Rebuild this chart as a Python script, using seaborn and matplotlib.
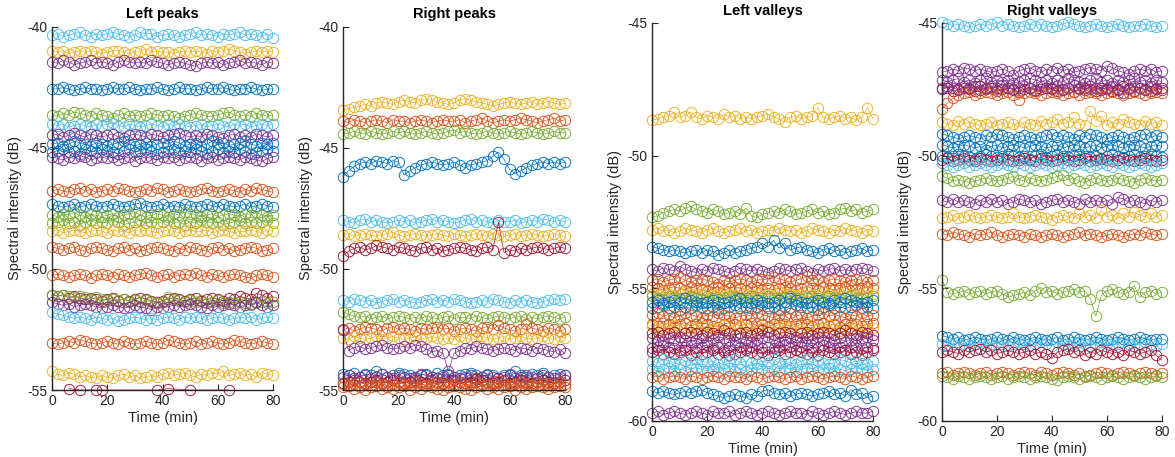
import numpy as np
import pandas as pd
import matplotlib
matplotlib.use("Agg")
import matplotlib.pyplot as plt
import seaborn as sns

# ---------------- data ----------------
TIME_START, TIME_END = 0, 80          # minutes
DEV_UNIT_DB = 0.06                    # deviations below are in units of 0.06 dB

MATLAB = {"blue": "#0072BD", "orange": "#D95319", "yellow": "#EDB120",
          "purple": "#7E2F8E", "green": "#77AC30", "cyan": "#4DBEEE",
          "darkred": "#A2142F"}

titles = ["Left peaks", "Right peaks", "Left valleys", "Right valleys"]
y_ticks_peaks = [-55, -50, -45, -40]
y_ticks_valleys = [-60, -55, -50, -45]
x_ticks = [0, 20, 40, 60, 80]

# ---- Left peaks ----
lp_levels = [-40.35, -41.05, -41.45, -42.57, -43.70, -44.02, -44.55, -44.85,
             -45.12, -45.38, -46.78, -47.45, -47.78, -48.05, -48.45, -49.15,
             -50.27, -51.25, -51.30, -51.50, -51.98, -53.05, -54.40, -55.00]
lp_colors = ["cyan", "yellow", "purple", "blue", "green", "cyan", "purple", "blue",
             "blue", "purple", "orange", "blue", "green", "green", "yellow", "orange",
             "orange", "darkred", "green", "purple", "cyan", "orange", "yellow", "darkred"]
N = None
lp_devs = [
    [0,1,-1,0,1,2,0,-1,1,0,1,2,1,0,-1,0,2,1,1,-1,0,1,0,-1,0,1,2,0,1,0,-1,1,0,1,2,0,1,0,-1,1,-2],
    [1,0,1,-1,0,1,0,1,0,-1,0,1,1,0,-1,0,1,2,0,1,0,0,-1,0,1,0,1,0,-1,1,0,1,2,1,0,-1,0,1,0,1,0],
    [0,-1,1,0,-2,-1,0,1,-1,0,-1,-2,0,1,0,-1,0,-1,1,0,-1,-2,-1,0,-1,-2,-3,-1,0,-1,0,-2,-1,0,1,-1,0,-1,-2,0,-1],
    [0,0,1,0,-1,0,1,0,0,-1,0,1,0,0,1,0,-1,0,0,1,0,-1,0,1,0,0,-1,0,1,0,0,1,0,-1,0,0,1,0,-1,0,0],
    [1,0,2,1,3,2,1,0,2,1,0,-1,1,2,0,1,0,1,2,1,0,1,0,-1,0,1,2,1,0,0,1,2,3,1,0,1,0,2,1,0,1],
    [0,-1,0,-2,-1,0,-1,-2,0,-1,0,1,-1,-2,0,-1,-2,-1,0,-1,-2,0,-1,0,-1,-2,-1,0,-2,-1,0,-1,-2,0,-1,0,-2,-1,0,-1,0],
    [1,2,0,1,3,1,0,2,1,0,1,2,0,-1,1,2,1,0,2,1,0,1,2,3,1,0,1,0,2,1,0,-1,1,2,0,1,0,2,1,0,1],
    [0,1,-1,0,2,1,0,-1,1,0,-1,0,1,2,0,-1,0,1,-1,0,1,0,2,1,-1,0,1,-1,0,2,0,1,-1,0,1,2,0,-1,1,0,1],
    [-1,0,1,-1,0,-2,1,0,-1,1,0,-1,-2,0,1,-1,0,1,0,-2,-1,0,1,-1,0,-1,1,0,-2,0,1,-1,0,-1,1,0,-2,-1,0,1,0],
    [0,-1,-2,0,-1,1,0,-2,-1,0,-1,0,-2,-1,0,-3,-1,0,-1,-2,0,-1,0,-2,-1,0,-1,-3,-1,0,-2,-1,0,-1,-2,0,-1,-2,-3,-1,0],
    [0,1,0,-1,1,2,0,1,-1,0,1,0,2,1,0,-1,0,1,0,2,1,-1,0,1,0,-1,0,1,2,0,-1,0,1,0,-1,1,0,2,1,0,-1],
    [2,1,0,1,2,0,1,2,1,0,1,2,1,0,1,2,3,1,0,1,2,0,1,0,2,1,0,1,2,1,0,2,1,0,1,2,0,1,2,1,0],
    [0,-1,1,0,2,0,-1,1,0,-1,0,1,-1,0,1,2,0,-1,0,1,0,-1,1,0,2,1,0,-1,0,1,-1,0,1,0,-1,1,0,2,0,-1,0],
    [-1,0,1,-1,0,-2,0,1,-1,0,-1,1,0,-2,-1,0,1,-1,0,-1,0,1,-1,0,-2,0,-1,1,0,-1,0,-2,-1,0,1,-1,0,-1,0,1,-1],
    [0,1,-1,0,1,0,-1,0,1,0,-1,1,0,0,-1,1,0,1,0,-1,0,1,0,-1,0,1,0,0,1,-1,0,1,0,-1,0,0,1,0,-1,1,0],
    [1,0,-1,0,1,-1,-2,0,1,0,-1,-2,0,1,-1,0,-2,-1,0,1,0,-1,-2,0,-1,1,0,-1,-2,0,1,-1,0,-2,-1,0,1,0,-2,-1,0],
    [0,1,0,-1,0,1,0,-2,0,1,0,-1,1,0,-1,0,1,2,0,-1,0,1,-1,0,1,0,2,0,-1,1,0,-1,0,1,0,-1,-2,0,1,0,-1],
    [3,2,3,1,2,1,0,1,0,-1,0,1,-1,0,-1,0,1,0,-1,-2,-1,0,1,0,-1,0,1,-1,0,1,0,-1,1,0,2,1,0,4,3,1,2],
    [4,3,4,3,2,3,2,1,2,1,0,1,0,1,-1,0,-1,0,-1,-2,-1,2,1,0,-1,0,-1,0,-2,-1,0,-2,-1,-2,-1,-2,-3,-2,-1,-2,-1],
    [2,1,0,1,-1,0,1,0,-1,-2,-1,0,-1,-2,-1,0,-1,-2,-3,-1,-2,-1,0,-1,0,1,0,-1,-2,0,-1,0,1,0,-1,0,1,2,0,-1,0],
    [3,2,1,0,-1,0,-1,-2,0,-1,-2,-1,-3,-2,-1,0,-1,-2,-1,-2,-1,0,-1,-2,0,-1,0,-1,-2,-1,0,-1,-2,-1,0,-1,0,-2,-1,0,-1],
    [0,-1,0,1,0,2,1,0,-1,0,1,0,-1,1,0,-1,0,1,0,-1,0,2,1,0,-1,0,1,-1,0,1,0,-1,0,2,1,0,-1,0,1,0,-1],
    [3,1,0,2,1,-1,0,-1,-2,0,-1,-2,0,1,-1,0,-2,-1,0,-1,1,2,0,1,2,0,-1,1,0,2,1,3,0,1,2,0,1,-1,2,1,0],
    [N,N,N,1,N,0,N,N,0,0,N,N,N,N,N,N,N,N,N,0,N,1,N,N,N,0,N,N,N,N,N,N,0,N,N,N,N,N,N,N,N],
]

# ---- Right peaks ----
rp_levels = [-43.15, -43.90, -44.38, -45.65, -48.05, -48.60, -49.15, -51.35,
             -52.00, -52.50, -52.85, -53.25, -54.40, -54.45, -54.65, -54.75, -54.88]
rp_colors = ["yellow", "orange", "green", "blue", "cyan", "yellow", "darkred", "cyan",
             "green", "orange", "yellow", "purple", "blue", "purple", "darkred", "orange", "orange"]
rp_devs = [
    [-5,-4,-3,-2,-1,-2,0,1,0,-1,1,2,1,0,2,3,2,1,0,-1,0,2,3,2,1,0,-1,-2,-1,0,1,0,-1,0,1,-1,0,1,0,-1,0],
    [0,-1,1,0,-1,0,1,0,-1,1,0,0,-1,0,1,0,-1,0,1,0,0,1,-1,0,1,2,0,-1,0,1,0,1,2,1,0,-1,0,1,2,0,1],
    [-1,0,1,0,-1,1,0,-1,0,1,0,1,0,-1,0,1,0,-1,0,1,2,0,1,0,-1,0,1,0,-1,0,1,0,-1,0,1,0,-1,0,1,0,0],
    [-9,-5,-2,0,1,0,2,1,0,2,1,-8,-5,-3,-1,0,1,0,-1,0,1,-1,-3,-1,0,1,2,5,8,3,-4,-7,-5,-3,-1,0,1,0,1,0,1],
    [1,0,-1,1,2,0,1,0,-1,0,1,0,1,-1,0,1,2,0,1,0,-1,0,1,2,0,1,0,-1,1,0,0,1,-1,0,1,0,2,1,0,1,0],
    [0,1,-1,0,1,0,-1,0,1,2,0,-1,0,1,0,-1,0,1,0,-1,1,0,-1,0,1,0,-1,1,0,-1,0,1,-1,0,1,0,-1,0,1,0,-1],
    [-5,-2,0,1,-1,0,2,1,0,-1,1,0,-1,-2,0,1,-1,0,-2,-1,0,1,0,-1,-2,0,1,-1,18,-3,-1,-2,0,-1,0,1,0,-1,0,1,0],
    [1,0,2,1,0,1,-1,0,1,2,0,1,0,-1,0,1,2,0,1,0,2,1,0,-1,0,1,0,2,1,0,-1,1,0,1,0,-1,0,1,2,1,2],
    [4,2,1,0,1,-1,0,1,-1,0,1,0,-1,0,-1,1,0,-1,0,1,-1,0,0,-1,1,0,-1,0,1,0,-1,0,1,-1,0,-1,0,1,0,-1,0],
    [0,1,-1,0,2,1,0,-1,1,2,0,1,0,-1,1,0,1,2,0,1,-1,0,1,0,-1,1,2,0,3,1,0,-1,0,4,1,0,-1,1,0,-1,0],
    [0,-1,1,0,-1,0,1,-1,0,1,0,-1,0,1,-1,0,1,0,-1,0,-1,1,0,-1,0,1,0,-1,0,1,-1,0,1,0,-1,0,1,0,-1,1,0],
    [12,-2,0,1,-1,0,1,2,0,-1,0,1,0,2,1,-1,-3,-2,-4,-16,-4,-2,0,-1,1,0,-1,-2,-1,0,-1,-2,0,-1,-2,0,-1,-2,-3,-1,-4],
    [1,0,2,-1,1,0,3,1,-1,0,2,1,0,-2,1,0,-1,2,0,1,-1,0,1,2,0,-1,1,0,-2,0,1,3,0,-1,1,0,2,-1,0,1,0],
    [0,1,-1,0,1,-1,0,2,0,-1,1,0,-1,0,1,2,0,-1,0,1,0,-1,0,1,-1,0,1,0,-1,0,1,-1,0,1,0,-1,1,0,-1,0,1],
    [-1,0,1,0,-1,0,1,-1,0,1,0,-1,0,1,0,-1,1,0,-1,0,1,0,-1,0,2,1,0,-1,0,1,-1,0,1,0,-1,0,1,0,-1,0,1],
    [0,-1,0,1,0,-1,1,0,-1,0,1,0,-1,1,0,-1,0,1,0,-1,0,1,-1,0,1,0,-1,0,2,0,-1,0,1,0,-1,1,0,-1,0,1,0],
    [0,1,-1,0,-2,0,1,-1,0,-1,0,1,-2,0,-1,1,0,-1,-2,0,1,0,-1,-2,0,1,-1,0,-1,0,1,-2,0,-1,0,1,0,-1,0,1,0],
]

# ---- Left valleys ----
lv_levels = [-48.55, -52.15, -52.85, -53.55, -54.35, -54.70, -55.00, -55.20,
             -55.35, -55.50, -55.70, -56.05, -56.35, -56.55, -56.70, -56.95,
             -57.20, -57.40, -57.80, -58.05, -58.35, -59.00, -59.70]
lv_colors = ["yellow", "green", "yellow", "blue", "purple", "orange", "orange", "yellow",
             "green", "blue", "blue", "orange", "orange", "yellow", "darkred", "purple",
             "purple", "darkred", "cyan", "cyan", "orange", "blue", "purple"]
lv_devs = [
    [-2,-1,0,1,3,0,1,3,0,-1,1,0,-1,2,0,1,-1,0,-1,0,1,2,0,-1,-3,0,1,-1,0,1,6,0,-1,0,1,-1,0,-2,0,6,-1],
    [-3,-2,0,1,2,1,3,4,2,1,0,2,1,-1,0,1,-1,3,-2,-3,-1,0,1,0,2,1,-1,0,1,2,0,1,-1,0,2,3,1,2,0,1,2],
    [1,2,0,1,-1,0,2,1,0,-1,1,2,0,-1,0,1,2,0,1,-1,0,1,0,2,1,0,1,-1,0,2,1,0,-1,1,0,2,1,0,-1,1,0],
    [2,1,0,-1,0,-1,-2,-1,0,-2,0,-1,-3,-2,0,-2,-1,0,1,2,4,2,6,1,4,0,1,2,0,-1,-2,0,1,-1,0,-2,-1,0,1,-1,0],
    [1,0,2,1,0,3,1,0,-1,1,0,2,1,0,-1,0,2,1,0,1,0,-1,0,2,1,0,1,2,0,-1,1,0,1,2,0,1,0,1,2,1,0],
    [0,1,-1,0,1,2,0,-1,0,1,0,-1,-2,0,-1,0,1,0,-1,0,1,0,2,1,0,-1,0,1,3,0,1,-1,0,1,0,-1,0,1,0,-1,0],
    [1,0,-1,0,1,0,-1,1,0,-1,-2,0,1,-1,0,1,0,-1,0,1,-1,0,-1,0,1,0,-1,0,1,0,-1,1,0,-1,0,1,2,-1,0,1,0],
    [0,-1,1,0,-1,0,1,0,-1,0,1,-1,0,1,0,-1,1,0,-1,0,1,0,-1,1,0,0,-1,0,1,-1,0,1,0,-1,0,1,0,-1,0,1,0],
    [1,0,-1,1,0,-1,0,1,0,-1,1,0,-1,0,1,0,-1,0,1,-1,0,1,0,-1,0,1,0,-1,0,1,0,-1,1,0,-1,0,1,0,-1,0,1],
    [0,1,-1,0,1,0,2,1,0,-1,0,1,0,-1,0,1,2,0,-1,1,0,-1,0,1,0,2,1,0,-1,0,1,0,-1,1,0,2,1,0,-1,0,1],
    [-1,0,1,-1,0,-2,0,-1,1,0,-1,0,-2,-1,0,1,-1,0,-1,0,1,-1,0,-2,0,-1,1,0,-1,0,-2,0,1,-1,0,-1,0,1,-1,0,-1],
    [1,2,0,1,-1,0,2,1,0,-1,1,0,2,1,0,-1,0,1,0,2,1,0,-1,1,0,2,0,1,-1,0,1,2,0,1,0,-1,1,0,2,0,1],
    [0,-1,1,0,-2,0,1,-1,0,1,0,-1,-2,0,1,0,-1,0,1,-1,0,-2,0,1,0,-1,0,1,0,-1,0,1,-1,0,-2,0,1,0,-1,0,1],
    [2,0,-1,1,3,0,-2,1,0,2,-1,0,1,3,-1,0,2,1,-2,0,1,-1,2,0,3,1,-1,0,2,-2,0,1,3,0,-1,1,0,2,-1,0,1],
    [0,1,-1,0,1,-2,0,1,0,-1,1,0,-1,2,0,-1,0,1,-1,0,2,1,-1,0,1,0,-2,0,1,-1,0,1,0,-1,0,2,0,-1,1,0,-1],
    [1,0,-1,1,0,2,0,-1,0,1,-1,0,2,1,0,-1,1,0,-1,0,1,2,0,-1,0,1,0,-1,1,0,2,0,-1,0,1,-1,0,1,0,2,0],
    [-1,0,1,0,-1,-2,0,1,-1,0,1,-1,0,-2,0,1,0,-1,0,1,-1,0,-1,0,1,0,-2,0,1,-1,0,1,0,-1,0,-2,0,1,-1,0,-1],
    [0,1,-1,0,-1,0,1,-2,0,-1,0,1,-1,0,-2,-1,0,1,0,-1,0,-2,0,1,-1,0,1,0,-1,0,-2,1,0,-1,0,1,-1,0,-2,0,1],
    [1,0,2,1,0,-1,1,0,2,1,0,1,-1,0,1,2,0,1,0,-1,1,0,2,0,1,0,-1,1,2,0,1,0,-1,0,2,1,0,1,0,-1,1],
    [0,-1,0,1,-1,0,-1,0,1,0,-1,0,-2,0,1,-1,0,-1,0,1,0,-1,0,-1,1,0,-2,0,1,0,-1,0,1,-1,0,-1,0,1,0,-1,0],
    [0,1,-1,0,1,0,-1,1,0,-1,0,1,0,-1,1,0,0,-1,1,0,-1,0,1,0,-1,0,1,-1,0,1,0,-1,0,1,0,-1,1,0,-1,0,1],
    [2,1,2,1,0,1,2,1,2,3,1,0,-1,-2,-1,0,-1,-2,0,-1,2,3,1,0,1,-1,0,1,0,-1,0,1,2,0,1,-1,3,0,1,-2,-1],
    [0,1,-1,0,1,0,-1,0,1,0,-1,1,0,0,1,-1,0,1,0,-1,0,1,0,-1,0,1,0,0,-1,1,0,-1,0,1,0,-1,0,1,0,0,1],
]

# ---- Right valleys ----
rv_levels = [-45.10, -46.80, -47.15, -47.50, -47.65, -47.45, -48.80, -49.30,
             -49.65, -50.00, -50.15, -50.35, -50.90, -51.75, -52.30, -53.00,
             -55.15, -56.90, -57.10, -57.40, -58.20, -58.35]
rv_colors = ["cyan", "purple", "purple", "darkred", "orange", "purple", "yellow", "blue",
             "blue", "blue", "darkred", "cyan", "green", "purple", "yellow", "orange",
             "green", "blue", "cyan", "darkred", "orange", "green"]
rv_devs = [
    [2,1,0,1,0,-1,0,1,0,1,2,0,1,0,-1,0,1,0,1,0,-1,0,1,2,1,0,-1,0,1,0,-1,0,1,0,-1,0,0,1,0,-1,0],
    [-1,0,1,0,2,1,0,1,0,-1,0,1,0,-3,0,1,2,0,-1,1,0,2,0,1,-1,0,1,2,1,0,3,2,0,-1,-2,0,1,0,1,-1,0],
    [0,-1,0,1,-1,0,-2,0,1,-1,0,-1,0,-2,-1,0,1,0,-1,0,-2,0,-1,1,0,-1,-2,0,1,-1,0,-2,0,-1,0,1,-1,0,-2,0,-1],
    [0,1,-1,0,1,0,-1,2,0,1,-1,0,1,0,-2,0,1,-1,0,1,0,-1,0,1,-2,0,1,0,-1,1,0,-1,0,2,0,-1,1,0,-1,0,1],
    [-10,-6,-3,-1,0,1,-1,0,1,0,-1,0,1,-1,-4,0,1,0,-1,0,1,0,-1,0,1,-1,0,1,0,-1,0,1,0,-1,0,1,0,-1,0,1,0],
    [0,1,0,-1,1,0,1,-1,0,1,0,2,0,-1,0,1,0,-1,1,0,0,1,-1,0,2,0,-1,1,0,-1,0,1,-1,-3,0,1,0,-1,1,0,-1],
    [1,0,-1,2,0,1,0,-1,0,1,-1,0,1,0,-2,1,0,-1,2,0,1,3,0,1,4,0,-1,8,2,5,-1,1,0,3,1,0,-1,2,0,1,-1],
    [2,1,0,-1,0,1,0,-1,1,0,2,1,0,-1,0,1,0,-1,0,1,2,0,1,0,-1,1,0,2,1,0,-1,0,1,0,-1,0,1,2,0,1,0],
    [1,0,-1,0,1,0,-1,0,-2,0,1,-1,0,1,0,-1,0,1,0,-1,0,1,-1,0,1,0,-1,0,1,-1,0,1,0,-1,0,1,0,-1,0,1,0],
    [0,-1,0,1,0,-1,-2,0,1,0,-1,0,1,0,-1,0,-2,0,1,-1,0,1,0,-1,0,1,0,-1,0,-2,0,1,0,-1,0,1,-1,0,1,0,-1],
    [0,1,-1,0,1,0,-1,1,0,-1,0,1,0,-1,0,1,0,-1,1,0,-1,0,1,0,-1,0,1,-1,0,1,0,-1,0,1,0,-1,0,1,0,-1,0],
    [1,0,-1,0,1,-1,0,1,0,-1,0,1,0,-1,1,0,-1,0,1,0,-1,0,1,-1,0,1,0,-1,0,1,0,-1,1,0,-1,0,1,0,-1,0,1],
    [2,1,-1,0,-1,-2,-1,0,1,0,-1,0,1,2,0,-1,1,0,-1,0,1,2,3,0,1,-1,-2,0,1,0,-1,0,1,0,-1,-2,0,1,0,-1,0],
    [1,0,2,0,1,0,-1,1,0,2,0,1,-1,0,2,1,0,1,-1,0,1,2,0,1,0,-1,2,0,1,0,1,-1,3,2,0,1,0,-1,1,0,1],
    [-1,0,1,-1,0,1,0,-1,0,1,0,-1,0,2,0,-1,0,1,0,-1,-2,0,1,0,-1,2,0,1,-1,4,0,1,-1,2,0,3,1,0,2,0,1],
    [1,0,2,1,0,-1,1,0,1,2,0,-1,0,1,0,-1,1,0,-1,0,1,0,-1,0,1,2,0,1,0,-1,0,1,0,-1,0,1,0,2,1,0,1],
    [8,0,-1,0,1,-1,0,1,-1,0,1,-1,-3,-2,-1,0,-2,1,3,0,1,-1,0,1,2,0,1,-4,-15,-2,1,2,0,-1,0,4,-3,0,1,-1,0],
    [2,1,0,1,-1,0,1,0,-1,0,1,0,-1,1,0,-1,0,1,0,-1,0,1,-1,0,1,0,-1,0,1,0,-1,0,1,0,-1,0,1,0,-1,0,0],
    [0,-1,0,1,0,-1,0,1,-1,0,1,0,-1,0,1,0,-1,0,1,0,-1,1,0,-1,0,1,0,-1,0,1,0,-1,0,1,0,-1,0,1,0,-1,0],
    [0,1,0,-1,1,0,1,2,0,1,-1,0,1,0,-1,0,1,-1,0,-1,-4,0,1,2,0,1,-2,0,-1,1,0,-1,0,-2,1,0,-1,0,1,-2,-5],
    [0,1,-1,0,1,0,-1,0,1,-1,0,1,0,-1,0,1,0,-1,1,0,-1,0,1,0,-1,0,-2,-1,0,1,0,-1,0,1,0,-1,0,1,0,-1,0],
    [1,0,-1,1,0,-1,0,1,0,-1,0,1,-1,0,1,0,-1,0,1,0,-1,-2,0,1,0,-1,0,1,0,-1,0,1,0,-1,0,1,0,-1,0,1,0],
]


def build_frame(levels, devs):
    rows = []
    for i, (lv, d) in enumerate(zip(levels, devs)):
        times = np.linspace(TIME_START, TIME_END, len(d))
        for t, dv in zip(times, d):
            val = np.nan if dv is None else lv + dv * DEV_UNIT_DB
            rows.append((f"s{i:02d}", t, val))
    return pd.DataFrame(rows, columns=["series", "time", "value"])


# ---------------- style ----------------
sns.set_theme(style="white")
plt.rcParams["font.family"] = ["Liberation Sans", "DejaVu Sans"]
TXT = "#262626"

fig = plt.figure(figsize=(11.75, 4.57), dpi=100)
fig.patch.set_facecolor("white")

panels = [
    (lp_levels, lp_colors, lp_devs, (-55, -40), y_ticks_peaks, [0.0443, 0.1466, 0.188, 0.795]),
    (rp_levels, rp_colors, rp_devs, (-55, -40), y_ticks_peaks, [0.2919, 0.1466, 0.189, 0.795]),
    (lv_levels, lv_colors, lv_devs, (-60, -45), y_ticks_valleys, [0.5549, 0.0788, 0.188, 0.871]),
    (rv_levels, rv_colors, rv_devs, (-60, -45), y_ticks_valleys, [0.8017, 0.0788, 0.187, 0.871]),
]

for k, (levels, colors, devs, ylim, yticks, pos) in enumerate(panels):
    ax = fig.add_axes(pos)
    df = build_frame(levels, devs)
    order = [f"s{i:02d}" for i in range(len(levels))]
    pal = {f"s{i:02d}": MATLAB[c] for i, c in enumerate(colors)}
    sns.lineplot(data=df, x="time", y="value", hue="series", hue_order=order,
                 palette=pal, estimator=None, sort=False, legend=False,
                 marker="o", markersize=7.5, markerfacecolor="none",
                 markeredgewidth=0.65, linewidth=0.5, ax=ax)
    for line in ax.lines:
        line.set_markeredgecolor(line.get_color())
        line.set_markerfacecolor("none")
        line.set_clip_on(False)

    ax.set_xlim(TIME_START, TIME_END)
    ax.set_ylim(*ylim)
    ax.set_xticks(x_ticks)
    ax.set_yticks(yticks)
    ax.set_xticklabels([str(v) for v in x_ticks])
    ax.set_yticklabels([str(v) for v in yticks])
    ax.tick_params(direction="in", length=4, width=0.8, colors=TXT,
                   labelsize=10, pad=3, left=True, bottom=True)
    for s in ["top", "right"]:
        ax.spines[s].set_visible(False)
    for s in ["left", "bottom"]:
        ax.spines[s].set_color(TXT)
        ax.spines[s].set_linewidth(1.0)
    ax.set_xlabel("Time (min)", fontsize=10.5, color=TXT, labelpad=2)
    ax.set_ylabel("Spectral intensity (dB)", fontsize=10.5, color=TXT, labelpad=4)
    ax.set_title(titles[k], fontsize=10.5, fontweight="bold", color="black", pad=6)
    ax.set_facecolor("white")

fig.savefig("out.png", dpi=100, facecolor="white")
